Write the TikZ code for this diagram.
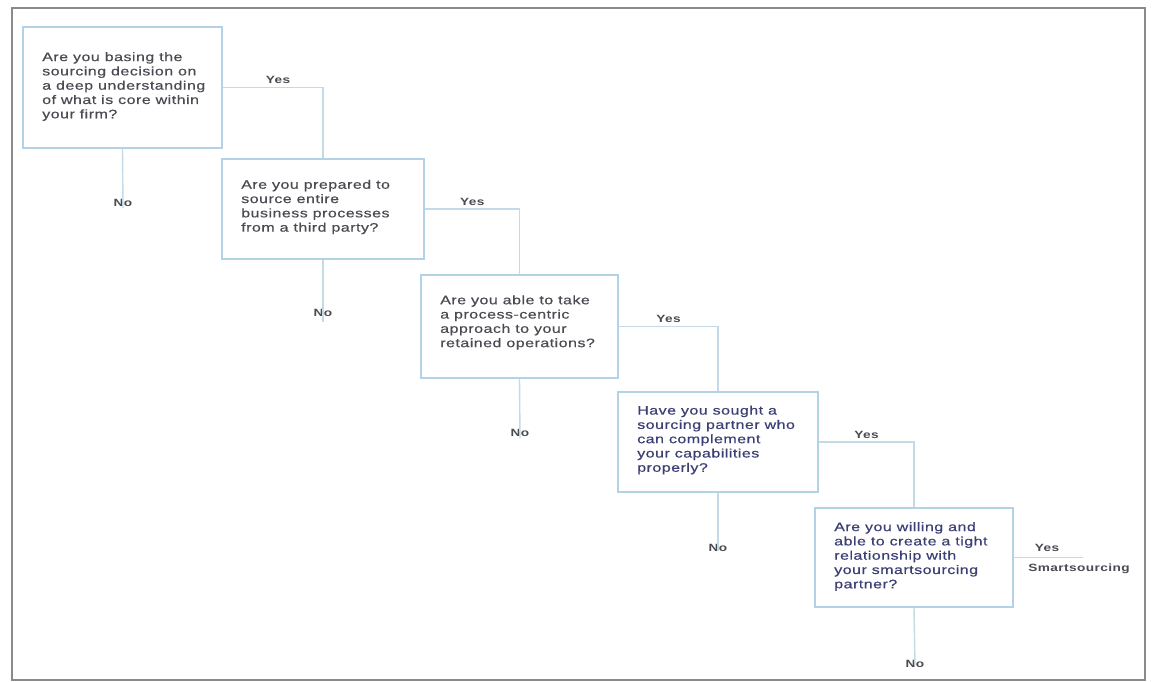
\documentclass[tikz,border=0pt]{standalone}
\usepackage{fontspec}
\setmainfont{Liberation Sans}[FakeStretch=1.3, LetterSpace=4]
\newfontfamily\qfont{Liberation Sans}[FakeStretch=1.3, LetterSpace=4, FakeBold=0.5]
\definecolor{boxline}{HTML}{B4D2E6}
\definecolor{wire}{HTML}{C4DAE6}
\definecolor{ink}{HTML}{4A4A52}
\definecolor{navy}{HTML}{3B3F74}
\definecolor{framegray}{HTML}{8A8A8A}
\tikzset{
  qbox/.style={draw=boxline, line width=1.9pt, fill=white, inner sep=0pt},
  qtext/.style={anchor=west, align=left, inner sep=0pt, text=ink,
    font=\qfont\fontsize{12.3}{14.3}\selectfont},
  lbl/.style={text=ink, inner sep=1pt, font=\fontsize{10.5}{12}\selectfont\bfseries},
  wireline/.style={draw=wire, line width=1.4pt}
}
\begin{document}
\begin{tikzpicture}[x=1pt,y=-1pt]
\useasboundingbox (0,0) rectangle (1152,682);
\fill[white] (0,0) rectangle (1152,682);
\draw[framegray, line width=2pt] (12,8) rectangle (1145,680);

% question boxes, each with its text set 20pt in from the left edge
\node[qbox, minimum width=199pt, minimum height=121pt] (B1) at (122.5,87.5) {};
\node[qtext] (T1) at ([xshift=20pt,yshift=1pt]B1.west)
  {Are you basing the\\sourcing decision on\\a deep understanding\\of what is core within\\your firm?};
\node[qbox, minimum width=202pt, minimum height=100pt] (B2) at (323,209) {};
\node[qtext] (T2) at ([xshift=20pt,yshift=2pt]B2.west)
  {Are you prepared to\\source entire\\business processes\\from a third party?};
\node[qbox, minimum width=197pt, minimum height=103pt] (B3) at (519.5,326.5) {};
\node[qtext] (T3) at ([xshift=20pt,yshift=4pt]B3.west)
  {Are you able to take\\a process-centric\\approach to your\\retained operations?};
\node[qbox, minimum width=200pt, minimum height=100pt] (B4) at (718,442) {};
\node[qtext, text=navy] (T4) at ([xshift=20pt,yshift=2pt]B4.west)
  {Have you sought a\\sourcing partner who\\can complement\\your capabilities\\properly?};
\node[qbox, minimum width=198pt, minimum height=99pt] (B5) at (914,557.5) {};
\node[qtext, text=navy] (T5) at ([xshift=20pt,yshift=1pt]B5.west)
  {Are you willing and\\able to create a tight\\relationship with\\your smartsourcing\\partner?};

% "Yes" branches
\draw[wireline] (B1.east) -- node[lbl, pos=0.55, above=2pt] {Yes} (B1.east -| B2.north) -- (B2.north);
\draw[wireline] (B2.east) -- node[lbl, pos=0.5, above=2pt] {Yes} (B2.east -| B3.north) -- (B3.north);
\draw[wireline] (B3.east) -- node[lbl, pos=0.5, above=2pt] {Yes} (B3.east -| B4.north) -- (B4.north);
\draw[wireline] (B4.east) -- node[lbl, pos=0.5, above=2pt] {Yes} (B4.east -| B5.north) -- (B5.north);
\coordinate (Yend) at (1083,557.5);
\node[lbl, anchor=north] (Smart) at (1079,563) {Smartsourcing};
\draw[wireline] (B5.east) -- node[lbl, pos=0.48, above=4pt] {Yes} (Yend);

% "No" branches
\node[lbl] (N1) at (123,203) {No};
\node[lbl] (N2) at (323,313) {No};
\node[lbl] (N3) at (520,433) {No};
\node[lbl] (N4) at (718,548) {No};
\node[lbl] (N5) at (915,664) {No};
\draw[wireline] (B1.south) -- ([yshift=-10pt]N1.north);
\draw[wireline] (B2.south) -- ([yshift=-14pt]N2.north);
\draw[wireline] (B3.south) -- ([yshift=-10pt]N3.north);
\draw[wireline] (B4.south) -- ([yshift=-8pt]N4.north);
\draw[wireline] (B5.south) -- ([yshift=-6pt]N5.north);
\end{tikzpicture}
\end{document}
